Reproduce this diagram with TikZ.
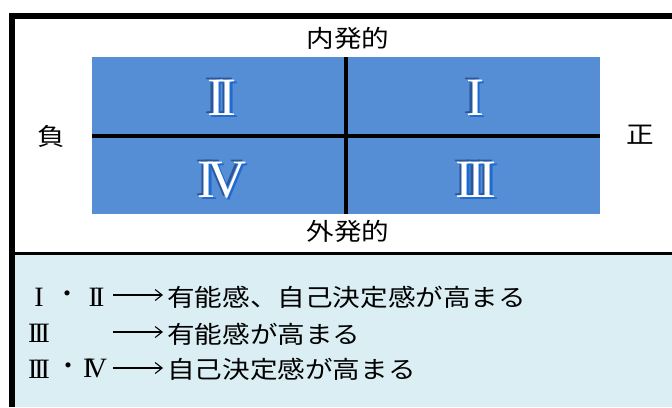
\documentclass[tikz,border=0pt]{standalone}
\usepackage{fontspec}
\setmainfont{Liberation Serif}
\newfontfamily\jp{Noto Sans CJK JP}
\newfontfamily\rmn{Liberation Serif}
\usetikzlibrary{arrows.meta}
\definecolor{qblue}{HTML}{558ED5}
\definecolor{pale}{HTML}{DAEEF3}
\definecolor{shdark}{HTML}{2B579A}
\definecolor{shbright}{HTML}{1F6BD1}
\newcommand\hstr[1]{\scalebox{1.15}[1]{#1}}
\newcommand\emb[1]{\makebox[0pt]{\hspace*{-5pt}\raisebox{2.5pt}{\textcolor{shdark}{#1}}}\makebox[0pt]{\hspace*{5pt}\raisebox{-2pt}{\textcolor{shbright}{#1}}}\makebox[0pt]{\textcolor{white}{#1}}}
\tikzset{
  quadnum/.style={inner sep=0pt, font=\rmn\fontsize{54}{54}\selectfont},
  axislabel/.style={inner sep=0pt, font=\jp\fontsize{24}{24}\selectfont},
  listnum/.style={inner sep=0pt, font=\rmn\fontsize{28}{28}\selectfont},
  listtxt/.style={inner sep=0pt, anchor=west, font=\jp\fontsize{24}{24}\selectfont},
  listdot/.style={inner sep=0pt, font=\jp\fontsize{24}{24}\selectfont},
  listarrow/.style={line width=1.1pt, -{Straight Barb[length=7pt,width=11pt]}},
  axisline/.style={line width=4pt}
}
\begin{document}
\begin{tikzpicture}[x=1pt,y=-1pt]
\useasboundingbox (0,0) rectangle (672,407);
\fill[white] (0,0) rectangle (672,407);
% lower pale panel
\fill[pale] (15,253) rectangle (672,407);
% frame
\fill[black] (9,13) rectangle (15,407);
\fill[black] (9,13) rectangle (672,19);
\fill[black] (15,252) rectangle (672,255);
% quadrant block
\node[fill=qblue, inner sep=0pt, minimum width=508pt, minimum height=157pt] (grid) at (346,135.5) {};
\draw[axisline] (grid.north) -- (grid.south);
\draw[axisline] (grid.west) -- (grid.east);
% axis labels
\node[axislabel] (top) at (348,38) {\hstr{内発的}};
\node[axislabel] (bottom) at (348,231) {\hstr{外発的}};
\node[axislabel] (left) at (51,136) {\hstr{負}};
\node[axislabel] (right) at (640,135) {\hstr{正}};
% quadrant numerals
\node[quadnum] (q2) at (222,98) {\emb{I\kern-.12em I}};
\node[quadnum] (q1) at (475,98) {\emb{I}};
\node[quadnum] (q4) at (222,180) {\emb{I\kern-.15em V}};
\node[quadnum] (q3) at (476,180) {\emb{I\kern-.12em I\kern-.12em I}};
% list line 1
\node[listnum] (l1a) at (39,297) {I};
\node[listdot] (l1d) at (67,297) {・};
\node[listnum] (l1b) at (96.5,297) {I\kern-.1em I};
\coordinate (a1s) at (113,295);
\coordinate (a1e) at (163,295);
\draw[listarrow] (a1s) -- (a1e);
\node[listtxt] (l1t) at (167,297.5) {\hstr{有能感、自己決定感が高まる}};
% list line 2
\node[listnum] (l2a) at (39,333) {I\kern-.11em I\kern-.11em I};
\coordinate (a2s) at (113,332);
\coordinate (a2e) at (163,332);
\draw[listarrow] (a2s) -- (a2e);
\node[listtxt] (l2t) at (167,334) {\hstr{有能感が高まる}};
% list line 3
\node[listnum] (l3a) at (39,369) {I\kern-.11em I\kern-.11em I};
\node[listdot] (l3d) at (68,369) {・};
\node[listnum] (l3b) at (95,369) {I\kern-.2em V};
\coordinate (a3s) at (113,368);
\coordinate (a3e) at (163,368);
\draw[listarrow] (a3s) -- (a3e);
\node[listtxt] (l3t) at (167,369.5) {\hstr{自己決定感が高まる}};
\end{tikzpicture}
\end{document}
